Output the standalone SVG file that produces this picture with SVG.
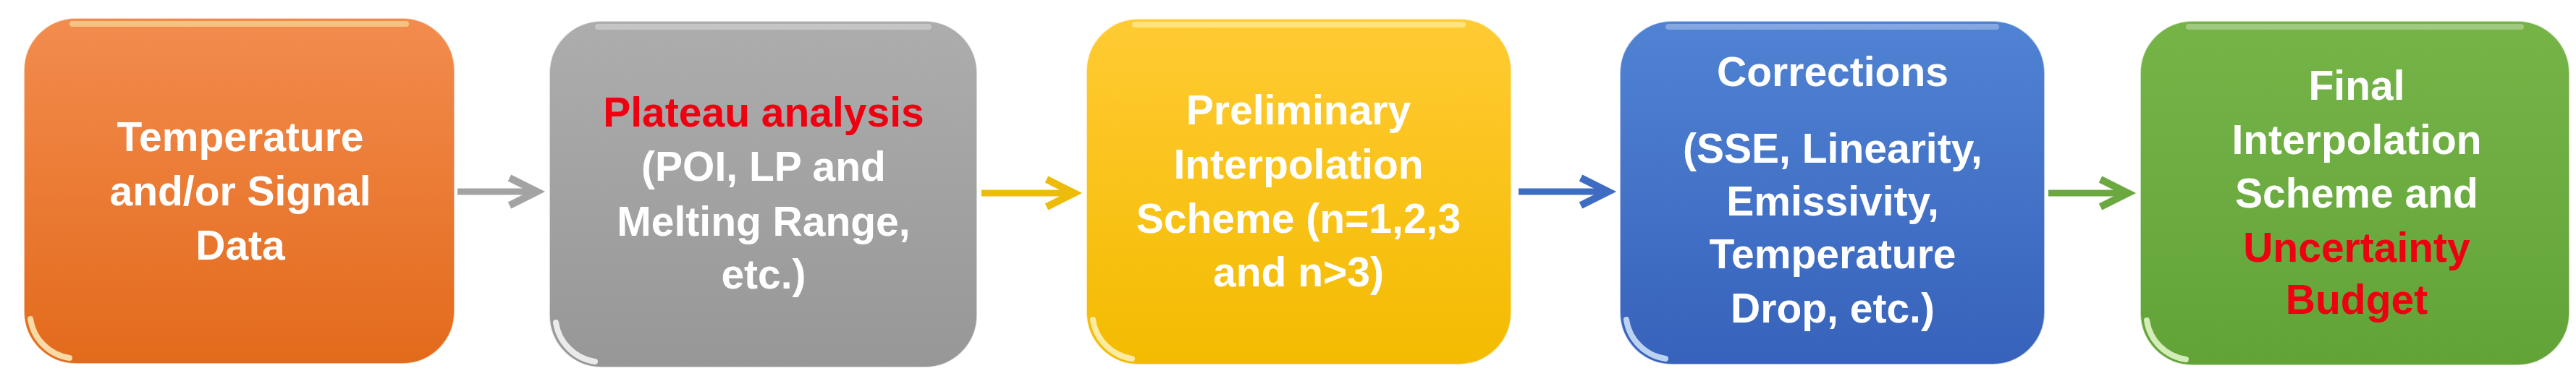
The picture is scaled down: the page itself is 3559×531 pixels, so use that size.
<svg xmlns="http://www.w3.org/2000/svg" width="3559" height="531" viewBox="0 0 3559 531">
<style>
.lbl{font-family:"Liberation Sans",Arial,sans-serif;font-weight:bold;font-size:57px;fill:#FFFFFF;text-anchor:middle}
.red{fill:#EE0010}
.gloss{fill:none;stroke:#FFFFFF;stroke-opacity:0.3;stroke-width:8;stroke-linecap:round}
.shine{fill:none;stroke:#FFF6C8;stroke-opacity:0.8;stroke-width:8;stroke-linecap:round}
.edge{stroke:#FFFFFF;stroke-opacity:0.6;stroke-width:2}
.conn{fill:none;stroke-width:9}
</style>
<defs>
<linearGradient id="gOrange" x1="0" y1="0" x2="0" y2="1"><stop offset="0" stop-color="#F28C4E"/><stop offset="1" stop-color="#E36A1B"/></linearGradient>
<linearGradient id="gGray" x1="0" y1="0" x2="0" y2="1"><stop offset="0" stop-color="#ADADAD"/><stop offset="1" stop-color="#979797"/></linearGradient>
<linearGradient id="gYellow" x1="0" y1="0" x2="0" y2="1"><stop offset="0" stop-color="#FFCB33"/><stop offset="1" stop-color="#F3BB00"/></linearGradient>
<linearGradient id="gBlue" x1="0" y1="0" x2="0" y2="1"><stop offset="0" stop-color="#5083D4"/><stop offset="1" stop-color="#3762BB"/></linearGradient>
<linearGradient id="gGreen" x1="0" y1="0" x2="0" y2="1"><stop offset="0" stop-color="#76B448"/><stop offset="1" stop-color="#62A338"/></linearGradient>
<marker id="mGray" markerUnits="userSpaceOnUse" markerWidth="60" markerHeight="60" refX="0" refY="0" viewBox="-50 -30 60 60" orient="auto" overflow="visible"><path d="M-38,-19 L0,0 L-38,19" fill="none" stroke="#A3A3A3" stroke-width="10"/></marker>
<marker id="mYellow" markerUnits="userSpaceOnUse" markerWidth="60" markerHeight="60" refX="0" refY="0" viewBox="-50 -30 60 60" orient="auto" overflow="visible"><path d="M-38,-19 L0,0 L-38,19" fill="none" stroke="#EDBB0A" stroke-width="10"/></marker>
<marker id="mBlue" markerUnits="userSpaceOnUse" markerWidth="60" markerHeight="60" refX="0" refY="0" viewBox="-50 -30 60 60" orient="auto" overflow="visible"><path d="M-38,-19 L0,0 L-38,19" fill="none" stroke="#3E6CC2" stroke-width="10"/></marker>
<marker id="mGreen" markerUnits="userSpaceOnUse" markerWidth="60" markerHeight="60" refX="0" refY="0" viewBox="-50 -30 60 60" orient="auto" overflow="visible"><path d="M-38,-19 L0,0 L-38,19" fill="none" stroke="#6BA83F" stroke-width="10"/></marker>
</defs>
<rect width="3559" height="531" fill="#FFFFFF"/>

<g id="connectors">
<line class="conn" x1="632" y1="265" x2="742" y2="265" stroke="#A3A3A3" marker-end="url(#mGray)"/>
<line class="conn" x1="1356" y1="267" x2="1484" y2="267" stroke="#EDBB0A" marker-end="url(#mYellow)"/>
<line class="conn" x1="2098" y1="265" x2="2222" y2="265" stroke="#3E6CC2" marker-end="url(#mBlue)"/>
<line class="conn" x1="2830" y1="267" x2="2940" y2="267" stroke="#6BA83F" marker-end="url(#mGreen)"/>
</g>

<g id="node1">
<rect class="edge" x="33" y="25" width="595" height="478" rx="72" fill="url(#gOrange)"/>
<path class="gloss" d="M100,33 L561,33" style="stroke:#FFE6A0;stroke-opacity:0.6"/>
<path class="shine" d="M42,441 A64,64 0 0 0 96,495"/>
<text class="lbl" x="332" y="209">Temperature</text>
<text class="lbl" x="332" y="284">and/or Signal</text>
<text class="lbl" x="332" y="359">Data</text>
</g>

<g id="node2">
<rect class="edge" x="759" y="29" width="591" height="479" rx="72" fill="url(#gGray)"/>
<path class="gloss" d="M826,37 L1283,37"/>
<path class="shine" d="M768,446 A64,64 0 0 0 822,500" style="stroke:#FFFFFF"/>
<text class="lbl red" x="1055" y="175">Plateau analysis</text>
<text class="lbl" x="1055" y="250">(POI, LP and</text>
<text class="lbl" x="1055" y="326">Melting Range,</text>
<text class="lbl" x="1055" y="399">etc.)</text>
</g>

<g id="node3">
<rect class="edge" x="1501" y="26" width="587" height="478" rx="72" fill="url(#gYellow)"/>
<path class="gloss" d="M1568,34 L2021,34" style="stroke:#FFF3B0;stroke-opacity:0.6"/>
<path class="shine" d="M1510,442 A64,64 0 0 0 1564,496"/>
<text class="lbl" x="1794" y="172">Preliminary</text>
<text class="lbl" x="1794" y="247">Interpolation</text>
<text class="lbl" x="1794" y="322">Scheme (n=1,2,3</text>
<text class="lbl" x="1794" y="396">and n&gt;3)</text>
</g>

<g id="node4">
<rect class="edge" x="2238" y="29" width="587" height="475" rx="72" fill="url(#gBlue)"/>
<path class="gloss" d="M2305,37 L2758,37"/>
<path class="shine" d="M2247,442 A64,64 0 0 0 2301,496" style="stroke:#DDEEFF"/>
<text class="lbl" x="2532" y="119">Corrections</text>
<text class="lbl" x="2532" y="225">(SSE, Linearity,</text>
<text class="lbl" x="2532" y="298">Emissivity,</text>
<text class="lbl" x="2532" y="371">Temperature</text>
<text class="lbl" x="2532" y="446">Drop, etc.)</text>
</g>

<g id="node5">
<rect class="edge" x="2957" y="29" width="593" height="476" rx="72" fill="url(#gGreen)"/>
<path class="gloss" d="M3024,37 L3483,37"/>
<path class="shine" d="M2966,443 A64,64 0 0 0 3020,497" style="stroke:#F0FFD8"/>
<text class="lbl" x="3256" y="138">Final</text>
<text class="lbl" x="3256" y="213">Interpolation</text>
<text class="lbl" x="3256" y="287">Scheme and</text>
<text class="lbl red" x="3256" y="362">Uncertainty</text>
<text class="lbl red" x="3256" y="434">Budget</text>
</g>
</svg>
